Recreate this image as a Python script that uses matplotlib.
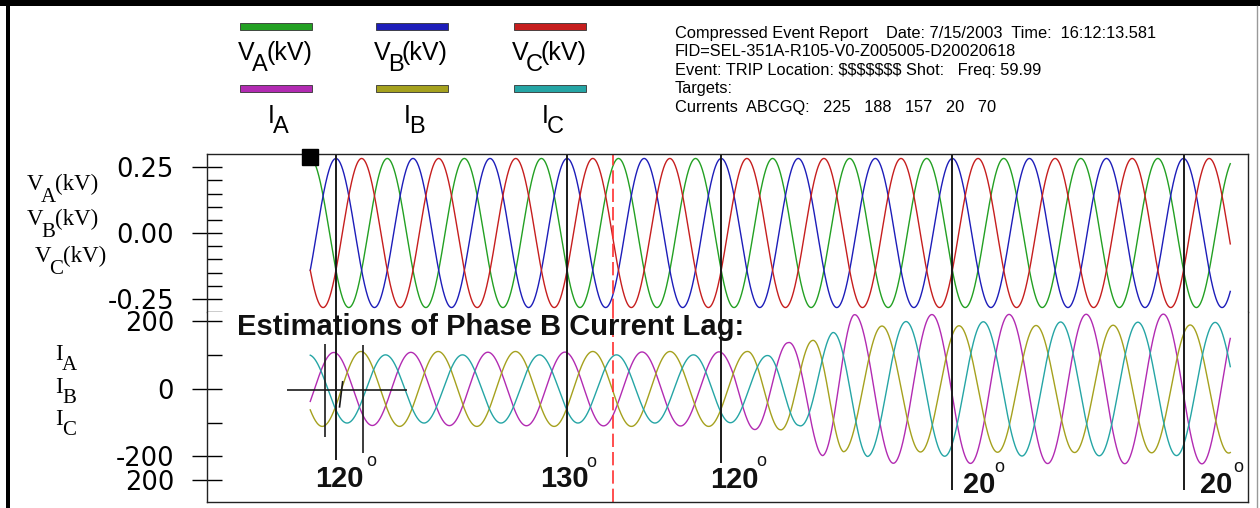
import numpy as np
import matplotlib.pyplot as plt
from matplotlib.lines import Line2D
from matplotlib.patches import Rectangle

# ---- data (time in cycles from record start) ----
record_end = 11.94                     # 12 cycles, last sample

# voltages: peak kV and phase angle (deg) of each phase
v_amp = 0.283
v_base = {'A': 0, 'B': 120, 'C': 240}

# currents: phasor readings at the marked times -> peak amps, lag behind own voltage (deg)
ia_t = [0.0, 5.5, 6.2, 6.65, 7.05, 11.94]
ia_amp = [108, 110, 137, 198, 220, 222]
ia_lag = [110, 110, 70, 50, 24, 26]

ib_t = [0.0, 5.67, 6.10, 6.51, 6.92, 11.94]
ib_amp = [111, 111, 121, 143, 186, 190]
ib_lag = [116, 122, 96, 65, 31, 31]

ic_t = [0.0, 5.0, 5.94, 6.34, 6.78, 7.23, 11.94]
ic_amp = [101, 101, 99, 108, 167, 200, 197]
ic_lag = [112, 110, 96, 62, 40, 23, 28]

# cursors placed on the VB peaks and the lag read at each one
cursor_t = [1/3, 3 + 1/3, 5 + 1/3, 8 + 1/3, 11 + 1/3]
cursor_low = [-210, -201, -219, -299, -299]
lag_labels = ['120', '130', '120', '20', '20']
trigger_t = 3.93

header_lines = [
    'Compressed Event Report    Date: 7/15/2003  Time:  16:12:13.581',
    'FID=SEL-351A-R105-V0-Z005005-D20020618',
    'Event: TRIP Location: $$$$$$$ Shot:   Freq: 59.99',
    'Targets:',
    'Currents  ABCGQ:   225   188   157   20   70',
]

col = {'VA': '#23a023', 'VB': '#1d1db9', 'VC': '#c61e1e',
       'IA': '#b22bb2', 'IB': '#a5a11e', 'IC': '#25a5a5'}

W, H = 1260, 508


def fx(x):
    return x / W


def fy(y):
    return 1 - y / H


fig = plt.figure(figsize=(W / 100, H / 100), dpi=100)
fig.patch.set_facecolor('white')

ax_v = fig.add_axes([fx(207), fy(312), (1248 - 207) / W, (312 - 154) / H])
ax_i = fig.add_axes([fx(207), fy(502), (1248 - 207) / W, (502 - 312) / H], sharex=ax_v)

t = np.linspace(0, record_end, 3000)

# waveforms built from the phasor readings
for ph in 'ABC':
    v = v_amp * np.cos(2 * np.pi * t - np.radians(v_base[ph]))
    ax_v.plot(t, v, color=col['V' + ph], lw=1.0)

for ph, tt, aa, ll in [('A', ia_t, ia_amp, ia_lag), ('B', ib_t, ib_amp, ib_lag),
                       ('C', ic_t, ic_amp, ic_lag)]:
    amp = np.interp(t, tt, aa)
    lag = np.interp(t, tt, ll)
    i = amp * np.cos(2 * np.pi * t - np.radians(v_base[ph] + lag))
    ax_i.plot(t, i, color=col['I' + ph], lw=1.0)

ax_v.set_xlim(-1.34, 12.17)
ax_v.set_ylim(-0.30, 0.30)
ax_i.set_ylim(-335, 228)

for ax in (ax_v, ax_i):
    for s in ax.spines.values():
        s.set_color('#222222')
        s.set_linewidth(1.0)
    ax.tick_params(axis='x', bottom=False, labelbottom=False)
    ax.tick_params(axis='y', which='major', direction='inout', length=20.9, width=1.0,
                   pad=13.3, labelsize=18.5, colors='black')
    ax.tick_params(axis='y', which='minor', direction='in', length=10.8, width=1.0,
                   colors='black')
ax_v.spines['bottom'].set_visible(False)
ax_i.spines['top'].set_visible(False)

ax_v.set_yticks([0.25, 0.0, -0.25], labels=['0.25', '0.00', '-0.25'])
ax_v.set_yticks([0.2, 0.15, 0.1, 0.05, -0.05, -0.1, -0.15, -0.2, -0.3], minor=True)
ax_i.set_yticks([200, 0, -200, -270], labels=['200', '0', '-200', '200'])
ax_i.set_yticks([100, -100], minor=True)

# cursor lines
for ct, lo in zip(cursor_t, cursor_low):
    ax_v.axvline(ct, color='#1a1a1a', lw=1.4)
    ax_i.vlines(ct, lo, 228, color='#1a1a1a', lw=1.4)
ax_v.axvline(trigger_t, color='#ff3030', lw=1.2, ls=(0, (8, 3)))
ax_i.axvline(trigger_t, color='#ff3030', lw=1.2, ls=(0, (8, 3)))

# small cross cursor on the first cycle
ax_i.vlines([0.19, 0.684], [-143, -190], [134, 131], color='#1a1a1a', lw=1.2)
ax_i.hlines(-3, -0.30, 1.26, color='#1a1a1a', lw=1.2)
ax_i.plot([0.42, 0.38], [21, -53], color='#1a1a1a', lw=1.2)

# start marker
ax_v.plot([0], [0.288], marker='s', ms=11.5, color='black', clip_on=False, zorder=5)

# lag annotations
lab_pos = [(315, 487), (540, 487), (710, 488), (963, 493), (1200, 493)]
deg_pos = [(366, 466), (586, 467), (756, 466), (994, 472), (1233, 472)]
for s, (x, y), (dx, dy) in zip(lag_labels, lab_pos, deg_pos):
    fig.text(fx(x), fy(y), s, family='Liberation Sans', weight='bold', size=21,
             ha='left', va='baseline', color='#111111')
    fig.text(fx(dx), fy(dy), 'o', family='Liberation Sans', size=13,
             ha='left', va='baseline', color='#111111')

fig.text(fx(237), fy(335), 'Estimations of Phase B Current Lag:', family='Liberation Sans',
         weight='bold', size=21, ha='left', va='baseline', color='#111111')

# channel names on the left (serif)
serif = dict(family='Liberation Serif', color='black', ha='left', va='baseline')
for base, sub, x0 in [(190, 'A', 27), (225, 'B', 27), (262, 'C', 35)]:
    fig.text(fx(x0), fy(base), 'V', size=16.5, **serif)
    fig.text(fx(x0 + 14), fy(base + 12), sub, size=15, **serif)
    fig.text(fx(x0 + 28), fy(base), '(kV)', size=16.5, **serif)
for base, sub in [(360, 'A'), (393, 'B'), (425, 'C')]:
    fig.text(fx(55), fy(base), 'I', size=16.5, **serif)
    fig.text(fx(62), fy(base + 10), sub, size=15, **serif)

# legend bars and names at the top
sans = dict(family='Liberation Sans', color='black', ha='left', va='baseline')
for k, (ph, x0) in enumerate([('A', 240), ('B', 376), ('C', 514)]):
    for row, name in [(0, 'V' + ph), (1, 'I' + ph)]:
        y0 = 23 + row * 62
        c = col[name]
        fig.add_artist(Rectangle((fx(x0), fy(y0 + 7)), 72 / W, 7 / H, transform=fig.transFigure,
                                 facecolor=c, edgecolor='#333333', lw=0.6))
    fig.text(fx(x0 - 2), fy(60), 'V', size=18, **sans)
    fig.text(fx(x0 + 12), fy(71), ph, size=17, **sans)
    fig.text(fx(x0 + 26), fy(60), '(kV)', size=18, **sans)
    fig.text(fx(x0 + 28), fy(123), 'I', size=18, **sans)
    fig.text(fx(x0 + 33), fy(133), ph, size=17, **sans)

for k, line in enumerate(header_lines):
    fig.text(fx(675), fy(38 + k * 18.5), line, family='Liberation Sans', size=11.8,
             ha='left', va='baseline', color='black')

# outer window frame
fig.add_artist(Rectangle((0, fy(6)), 1, 6 / H, transform=fig.transFigure,
                         facecolor='black', edgecolor='none'))
fig.add_artist(Rectangle((fx(6), 0), 4 / W, 1, transform=fig.transFigure,
                         facecolor='black', edgecolor='none'))
fig.add_artist(Line2D([fx(1257), fx(1257)], [0, fy(6)], transform=fig.transFigure,
                      color='#999999', lw=1))

fig.savefig('out.png', dpi=100, facecolor='white')
